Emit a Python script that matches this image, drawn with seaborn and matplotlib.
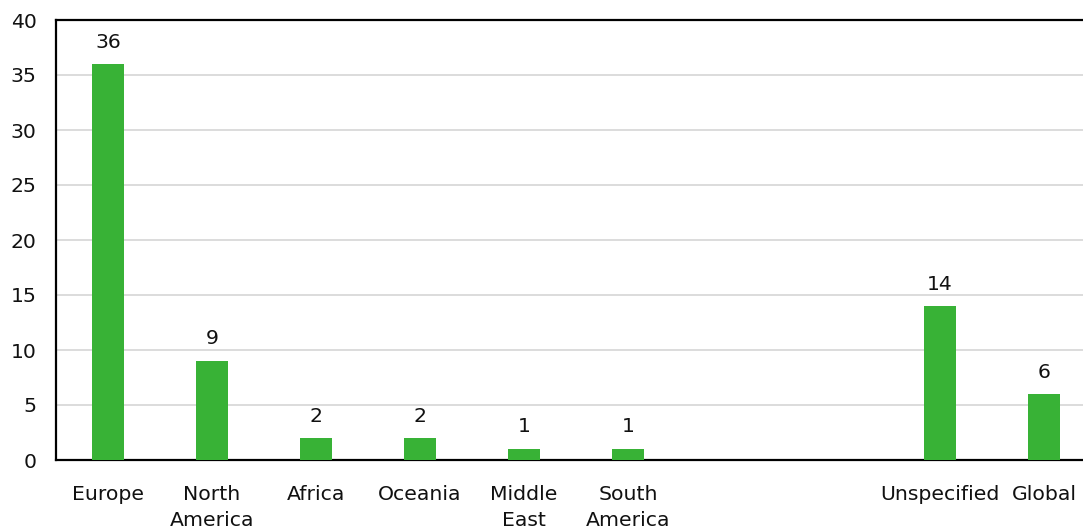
import matplotlib
matplotlib.use("Agg")
import matplotlib.pyplot as plt
import seaborn as sns
import pandas as pd
import numpy as np

categories = ["Europe", "North America", "Africa", "Oceania", "Middle East",
              "South America", "Unspecified", "Global"]
values = [36, 9, 2, 2, 1, 1, 14, 6]
slot_order = ["Europe", "North America", "Africa", "Oceania", "Middle East",
              "South America", "_gap1", "_gap2", "Unspecified", "Global"]
tick_labels = ["Europe", "North\nAmerica", "Africa", "Oceania", "Middle\nEast",
               "South\nAmerica", "", "", "Unspecified", "Global"]
y_ticks = [0, 5, 10, 15, 20, 25, 30, 35, 40]

sns.set_style("white")
plt.rcParams["font.family"] = ["DejaVu Sans"]

df = pd.DataFrame({"region": categories, "count": values})

W, H = 1083, 529
fig = plt.figure(figsize=(W / 100, H / 100), dpi=100)
ax = fig.add_axes([56 / W, (H - 460) / H, 1040 / W, 440 / H])

FS = 14.7
sns.barplot(data=df, x="region", y="count", order=slot_order, color="#38b236",
            saturation=1, width=0.31, linewidth=0, ax=ax, zorder=3)

for c in ax.containers:
    ax.bar_label(c, fmt="%d", padding=9, fontsize=FS, color="#111111")

ax.set_ylim(0, 40)
ax.set_yticks(y_ticks)
ax.set_xticks(range(len(slot_order)))
ax.set_xticklabels(tick_labels, fontsize=FS, linespacing=1.45, color="#111111")
ax.tick_params(axis="y", labelsize=FS, length=0, pad=14, labelcolor="#111111")
ax.tick_params(axis="x", length=0, pad=18)
ax.set_xlabel("")
ax.set_ylabel("")
ax.set_xlim(-0.5, len(slot_order) - 0.5)

ax.yaxis.grid(True, color="#d9d9d9", linewidth=1.3, zorder=0)
ax.xaxis.grid(False)
ax.set_axisbelow(True)

for side in ["left", "top", "bottom"]:
    ax.spines[side].set_visible(True)
    ax.spines[side].set_color("black")
    ax.spines[side].set_linewidth(1.6)
ax.spines["right"].set_visible(False)

fig.savefig("out.png", dpi=100)
